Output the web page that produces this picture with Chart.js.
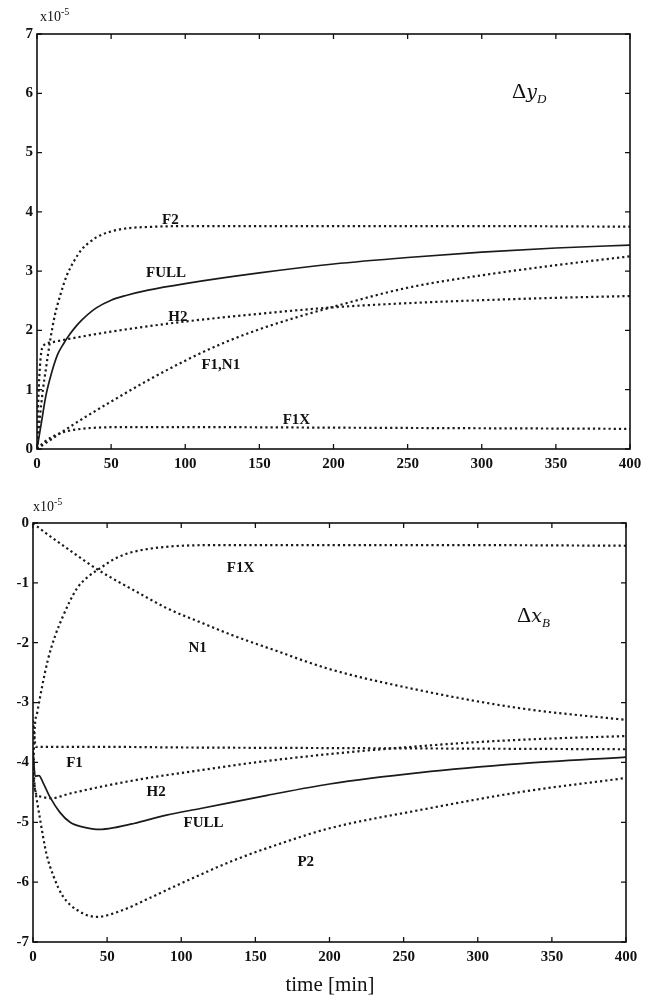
<!DOCTYPE html>
<html lang="en">
<head>
  <meta charset="UTF-8">
  <title>Delta yD and Delta xB responses</title>
  <script src="https://cdn.jsdelivr.net/npm/chart.js"></script>
  <style>
    body {
      margin: 0;
      background: #fff;
      width: 656px;
      height: 1000px;
      position: relative;
      font-family: "Liberation Serif", "DejaVu Serif", serif;
      color: #111;
    }
    canvas { position: absolute; left: 0; }
    #topChart { top: 0; }
    #bottomChart { top: 480px; }
    .mult {
      position: absolute;
      font-size: 14px;
    }
    .mult sup { font-size: 10px; }
    .var {
      position: absolute;
      font-size: 22px;
    }
    .var i { font-family: "DejaVu Serif", serif; font-size: 19px; }
    .var sub { font-size: 13px; font-style: italic; }
    #xlabel {
      position: absolute;
      top: 972px;
      left: 0;
      width: 656px;
      text-align: center;
      font-size: 21px;
      padding-left: 4px;
      box-sizing: border-box;
    }
  </style>
</head>
<body>
  <canvas id="topChart" width="656" height="480"></canvas>
  <canvas id="bottomChart" width="656" height="520"></canvas>
  <div class="mult" style="left:40px; top:6px;">x10<sup>-5</sup></div>
  <div class="mult" style="left:33px; top:496px;">x10<sup>-5</sup></div>
  <div class="var" style="left:512px; top:78px;">&Delta;<i>y</i><sub>D</sub></div>
  <div class="var" style="left:517px; top:602px;">&Delta;<i>x</i><sub>B</sub></div>
  <div id="xlabel">time [min]</div>

  <script>
    // ---- top panel: delta yD (x10^-5) ----
    const yF2T   = [0, 2, 4, 6, 9, 12, 16, 20, 25, 30, 35, 40, 50, 60, 80, 100, 150, 200, 300, 400];
    const yF2    = [0, 0.55, 1.0, 1.35, 1.85, 2.25, 2.62, 2.92, 3.17, 3.36, 3.48, 3.57, 3.67, 3.72, 3.75, 3.76, 3.76, 3.76, 3.76, 3.75];
    const yFullT = [0, 3, 6, 10, 14, 18, 22, 26, 30, 40, 50, 60, 75, 100, 150, 200, 250, 300, 350, 400];
    const yFull  = [0, 0.45, 0.9, 1.3, 1.6, 1.78, 1.93, 2.06, 2.17, 2.38, 2.51, 2.59, 2.68, 2.79, 2.97, 3.12, 3.23, 3.32, 3.39, 3.44];
    const yH2T   = [0, 1, 2, 3, 5, 10, 20, 50, 100, 150, 200, 250, 300, 350, 400];
    const yH2    = [0, 0.9, 1.4, 1.65, 1.76, 1.8, 1.85, 1.98, 2.15, 2.28, 2.39, 2.46, 2.51, 2.55, 2.58];
    const yF1N1T = [0, 10, 25, 50, 75, 100, 125, 150, 175, 200, 250, 300, 350, 400];
    const yF1N1  = [0, 0.17, 0.42, 0.8, 1.16, 1.49, 1.78, 2.02, 2.22, 2.4, 2.72, 2.93, 3.1, 3.25];
    const yF1XT  = [0, 5, 10, 15, 20, 30, 40, 60, 100, 200, 300, 400];
    const yF1X   = [0, 0.12, 0.2, 0.26, 0.3, 0.34, 0.36, 0.37, 0.37, 0.36, 0.35, 0.34];

    // ---- bottom panel: delta xB (x10^-5) ----
    const xN1T   = [0, 5, 25, 45, 70, 90, 115, 135, 160, 200, 260, 330, 400];
    const xN1    = [0, -0.1, -0.46, -0.8, -1.15, -1.42, -1.68, -1.88, -2.1, -2.44, -2.79, -3.1, -3.29];
    const xF1XT  = [0, 1, 3, 6, 10, 15, 20, 25, 30, 37, 45, 55, 65, 85, 120, 200, 300, 400];
    const xF1X   = [-4.4, -3.5, -3.15, -2.75, -2.29, -1.88, -1.57, -1.3, -1.08, -0.9, -0.76, -0.6, -0.5, -0.41, -0.37, -0.37, -0.37, -0.38];
    const xF1T   = [0, 2, 50, 100, 200, 300, 400];
    const xF1    = [-3.3, -3.74, -3.74, -3.75, -3.76, -3.77, -3.78];
    const xH2T   = [0, 1.5, 5, 12, 25, 45, 75, 113, 150, 200, 250, 300, 350, 400];
    const xH2    = [-3.9, -4.49, -4.57, -4.6, -4.52, -4.41, -4.27, -4.13, -4.0, -3.86, -3.75, -3.66, -3.6, -3.56];
    const xFullT = [0, 1.5, 4, 7, 11.5, 18, 25, 34, 45, 55, 68, 90, 113, 158, 200, 261, 329, 400];
    const xFull  = [-3.8, -4.23, -4.22, -4.35, -4.58, -4.83, -5.0, -5.08, -5.12, -5.09, -5.02, -4.88, -4.77, -4.55, -4.36, -4.17, -4.02, -3.91];
    const xP2T   = [0, 1.5, 4.5, 9, 14, 20, 30, 43, 57, 80, 100, 135, 170, 200, 260, 330, 400];
    const xP2    = [-4.2, -4.46, -4.91, -5.52, -5.91, -6.23, -6.47, -6.58, -6.5, -6.25, -6.02, -5.64, -5.33, -5.1, -4.8, -4.49, -4.26];

    // tick labels
    const timeTicks = [0, 50, 100, 150, 200, 250, 300, 350, 400];

    // curve labels (anchor in data units)
    const topLabels = [
      { text: 'F2', t: 90, v: 3.86 },
      { text: 'FULL', t: 87, v: 2.97 },
      { text: 'H2', t: 95, v: 2.23 },
      { text: 'F1,N1', t: 124, v: 1.42 },
      { text: 'F1X', t: 175, v: 0.49 }
    ];
    const bottomLabels = [
      { text: 'F1X', t: 140, v: -0.75 },
      { text: 'N1', t: 111, v: -2.09 },
      { text: 'F1', t: 28, v: -4.01 },
      { text: 'H2', t: 83, v: -4.49 },
      { text: 'FULL', t: 115, v: -5.01 },
      { text: 'P2', t: 184, v: -5.66 }
    ];

    const pts = (ts, vs) => ts.map((t, i) => ({ x: t, y: vs[i] }));

    function curve(ts, vs, dotted) {
      return {
        data: pts(ts, vs),
        borderColor: '#1a1a1a',
        borderWidth: dotted ? 2.2 : 1.7,
        borderDash: dotted ? [2.2, 3] : [],
        pointRadius: 0,
        fill: false,
        cubicInterpolationMode: 'monotone'
      };
    }

    // box around the plot and inward tick marks on all sides
    const framePlugin = {
      id: 'frame',
      afterDatasetsDraw(chart) {
        const { ctx, chartArea: a, scales } = chart;
        ctx.save();
        ctx.strokeStyle = '#111';
        ctx.lineWidth = 1.6;
        ctx.strokeRect(a.left, a.top, a.right - a.left, a.bottom - a.top);
        ctx.lineWidth = 1.3;
        ctx.beginPath();
        scales.x.ticks.forEach(tk => {
          const px = scales.x.getPixelForValue(tk.value);
          ctx.moveTo(px, a.bottom); ctx.lineTo(px, a.bottom - 5);
          ctx.moveTo(px, a.top); ctx.lineTo(px, a.top + 5);
        });
        scales.y.ticks.forEach(tk => {
          const py = scales.y.getPixelForValue(tk.value);
          ctx.moveTo(a.left, py); ctx.lineTo(a.left + 5, py);
          ctx.moveTo(a.right, py); ctx.lineTo(a.right - 5, py);
        });
        ctx.stroke();
        ctx.restore();
      }
    };

    const labelPlugin = {
      id: 'curveLabels',
      afterDatasetsDraw(chart, args, opts) {
        const { ctx, scales } = chart;
        ctx.save();
        ctx.font = 'bold 15px "Liberation Serif", serif';
        ctx.fillStyle = '#111';
        ctx.textAlign = 'center';
        ctx.textBaseline = 'middle';
        (opts.items || []).forEach(l => {
          ctx.fillText(l.text, scales.x.getPixelForValue(l.t), scales.y.getPixelForValue(l.v));
        });
        ctx.restore();
      }
    };

    const tickFont = { family: '"Liberation Serif", serif', size: 15, weight: 'bold' };

    function makeChart(id, datasets, yMin, yMax, yWidth, pad, labels) {
      return new Chart(document.getElementById(id), {
        type: 'line',
        data: { datasets },
        plugins: [framePlugin, labelPlugin],
        options: {
          responsive: false,
          animation: false,
          devicePixelRatio: 1,
          layout: { padding: pad },
          plugins: {
            legend: { display: false },
            tooltip: { enabled: false },
            curveLabels: { items: labels }
          },
          scales: {
            x: {
              type: 'linear',
              min: 0,
              max: 400,
              afterBuildTicks: s => { s.ticks = timeTicks.map(v => ({ value: v })); },
              afterFit: s => { s.height = 30; },
              grid: { display: false, drawTicks: false },
              border: { display: false },
              ticks: { color: '#111', font: tickFont, padding: 6, maxRotation: 0 }
            },
            y: {
              min: yMin,
              max: yMax,
              afterFit: s => { s.width = yWidth; },
              grid: { display: false, drawTicks: false },
              border: { display: false },
              ticks: { color: '#111', font: tickFont, padding: 4, stepSize: 1 }
            }
          }
        }
      });
    }

    makeChart('topChart', [
      curve(yF2T, yF2, true),
      curve(yFullT, yFull, false),
      curve(yH2T, yH2, true),
      curve(yF1N1T, yF1N1, true),
      curve(yF1XT, yF1X, true)
    ], 0, 7, 37, { top: 34, right: 26, left: 0, bottom: 1 }, topLabels);

    makeChart('bottomChart', [
      curve(xN1T, xN1, true),
      curve(xF1XT, xF1X, true),
      curve(xF1T, xF1, true),
      curve(xH2T, xH2, true),
      curve(xFullT, xFull, false),
      curve(xP2T, xP2, true)
    ], -7, 0, 33, { top: 43, right: 30, left: 0, bottom: 28 }, bottomLabels);
  </script>
</body>
</html>
